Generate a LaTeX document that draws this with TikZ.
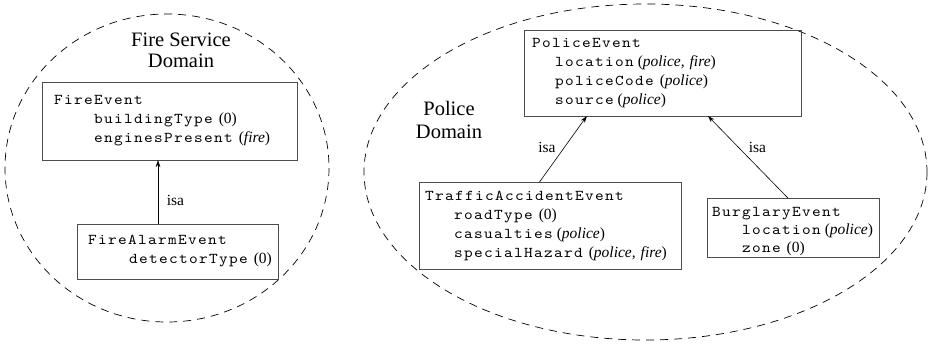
\documentclass[tikz,border=0pt]{standalone}
\usepackage{fontspec}
\setmainfont{Liberation Serif}
\setmonofont{lmmono10-regular}[Extension=.otf, FakeStretch=1.1, LetterSpace=9]
\usetikzlibrary{arrows.meta,calc}

\newcommand\mono{\ttfamily\fontsize{15}{19}\selectfont}
\newcommand\ann[1]{{\rmfamily\fontsize{15.5}{19}\selectfont #1}}
\newcommand\ind[1]{\hspace*{#1pt}}
\newcommand\wsp{\kern6pt}
\newcommand\nsp{\kern4pt}

\begin{document}
\begin{tikzpicture}[x=1pt,y=-1pt,
  box/.style={draw=black!70, line width=0.9pt, anchor=north west, align=left,
    outer sep=0pt, inner ysep=0pt, font=\mono},
  domline/.style={draw=black, dash pattern=on 8pt off 6pt, line width=0.7pt},
  dlabel/.style={align=center, inner sep=0pt, font=\fontsize{20.5}{21}\selectfont},
  isalabel/.style={inner sep=0pt, font=\fontsize{15.5}{19}\selectfont},
  arr/.style={-{Stealth[length=7pt,width=4.5pt]}, line width=0.6pt}]

\useasboundingbox (0,0) rectangle (933,346);

% domains
\draw[domline] (167,168) ellipse [x radius=162, y radius=154];
\draw[domline] (645.5,172) ellipse [x radius=281.5, y radius=168];

\node[dlabel] (fsd) at (181,50.5) {Fire Service\\Domain};
\node[dlabel, font=\fontsize{20.5}{23}\selectfont] (pd) at (449,119.5) {Police\\Domain};

% boxes
\node[box, minimum width=255pt, minimum height=78pt, text width=231pt, inner xsep=12pt]
  (fe) at (42,82) {FireEvent\\\ind{40}buildingType\wsp\ann{(0)}\\\ind{40}enginesPresent\wsp\ann{(\textit{fire})}};
\node[box, minimum width=201pt, minimum height=55pt, text width=179pt, inner xsep=11pt]
  (fa) at (77,224) {FireAlarmEvent\\\ind{41}detectorType\wsp\ann{(0)}};
\node[box, minimum width=277pt, minimum height=86pt, text width=261pt, inner xsep=8pt]
  (pe) at (524,30) {PoliceEvent\\\ind{23}location\nsp\ann{(\textit{police,~fire})}\\\ind{23}policeCode\wsp\ann{(\textit{police})}\\\ind{23}source\nsp\ann{(\textit{police})}};
\node[box, minimum width=262pt, minimum height=87pt, text width=250pt, inner xsep=6pt]
  (tr) at (419,182) {TrafficAccidentEvent\\\ind{29}roadType\wsp\ann{(0)}\\\ind{29}casualties\nsp\ann{(\textit{police})}\\\ind{29}specialHazard\wsp\ann{(\textit{police,~fire})}};
\node[box, minimum width=172pt, minimum height=59pt, text width=162pt, inner xsep=5pt,
  font={\mono\fontsize{15}{18}\selectfont}]
  (bu) at (707,198) {\rule{0pt}{18pt}BurglaryEvent\\\ind{30}location\nsp\ann{(\textit{police})}\\\ind{30}zone\wsp\ann{(0)}};

% isa connectors
\coordinate (fx) at (158,0);
\draw[arr] (fa.north -| fx) -- (fe.south -| fx);
\draw[arr] ($(tr.north west)!0.46!(tr.north east)$) -- ($(pe.south west)!0.227!(pe.south east)$);
\draw[arr] ($(bu.north west)!0.47!(bu.north east)$) -- ($(pe.south west)!0.664!(pe.south east)$);

\node[isalabel] (i1) at (175.5,200.7) {isa};
\node[isalabel] (i2) at (547,147.7) {isa};
\node[isalabel] (i3) at (757.5,147.7) {isa};
\end{tikzpicture}
\end{document}
